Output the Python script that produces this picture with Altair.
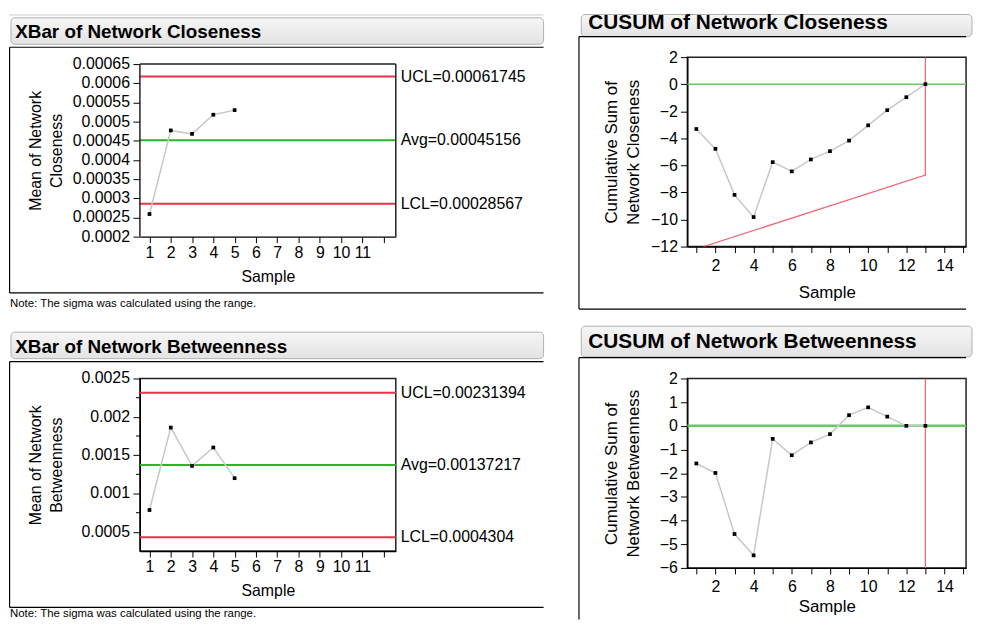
import altair as alt
import pandas as pd

FONT = "Liberation Sans"
RED = "#e8334a"
GREEN = "#2bb52b"
LIGHT_RED = "#f0687a"
LIGHT_GREEN = "#66c966"
LINE_GREY = "#c8c8c8"
FRAME = "#222222"

# ---------------- data ----------------
xbar_samples = [1, 2, 3, 4, 5]
closeness_means = [0.000259, 0.000477, 0.000468, 0.000518, 0.000530]
betweenness_means = [0.000785, 0.00186, 0.00136, 0.00160, 0.00120]

limit_names = ["UCL", "Avg", "LCL"]
closeness_limits = [0.00061745, 0.00045156, 0.00028567]
closeness_limit_labels = ["UCL=0.00061745", "Avg=0.00045156", "LCL=0.00028567"]
betweenness_limits = [0.00231394, 0.00137217, 0.0004304]
betweenness_limit_labels = ["UCL=0.00231394", "Avg=0.00137217", "LCL=0.0004304"]

cusum_samples = [1, 2, 3, 4, 5, 6, 7, 8, 9, 10, 11, 12, 13]
cusum_closeness = [-3.31, -4.78, -8.18, -9.82, -5.76, -6.44, -5.56, -4.95, -4.17, -3.04, -1.92, -0.96, 0.0]
cusum_betweenness = [-1.59, -1.99, -4.57, -5.47, -0.55, -1.24, -0.70, -0.35, 0.45, 0.78, 0.39, 0.0, 0.0]
cusum_target = [0]

vmask_closeness_x = [1.375, 13, 13]
vmask_closeness_y = [-12, -6.71, 2]
vmask_betweenness_x = [13, 13]
vmask_betweenness_y = [-6, 2]

xbar_x_range = [0.55, 12.57]
closeness_y_range = [0.0002, 0.00065]
betweenness_y_range = [0.00025, 0.0025]
cusum_x_range = [0.53, 15.13]

xbar_x_ticks = [1, 2, 3, 4, 5, 6, 7, 8, 9, 10, 11, 12]
closeness_y_ticks = [0.0002, 0.00025, 0.0003, 0.00035, 0.0004, 0.00045,
                     0.0005, 0.00055, 0.0006, 0.00065]
closeness_y_labels = ["0.0002", "0.00025", "0.0003", "0.00035", "0.0004", "0.00045",
                      "0.0005", "0.00055", "0.0006", "0.00065"]
betweenness_y_ticks = [0.0005, 0.001, 0.0015, 0.002, 0.0025]
betweenness_y_labels = ["0.0005", "0.001", "0.0015", "0.002", "0.0025"]
betweenness_y_minor = [0.00075, 0.00125, 0.00175, 0.00225]
cusum_x_ticks = [1, 2, 3, 4, 5, 6, 7, 8, 9, 10, 11, 12, 13, 14, 15]
cusum_closeness_y_ticks = [-12, -10, -8, -6, -4, -2, 0, 2]
cusum_betweenness_y_ticks = [-6, -5, -4, -3, -2, -1, 0, 1, 2]

NOTE = "Note: The sigma was calculated using the range."

one = pd.DataFrame({"k": [0]})

HEADER_FILL = alt.LinearGradient(
    gradient="linear",
    stops=[alt.GradientStop(offset=0, color="#f6f6f6"),
           alt.GradientStop(offset=1, color="#e3e3e3")],
    x1=0, x2=0, y1=0, y2=1,
)


def rect(x1, x2, y1, y2, **kw):
    return alt.Chart(one).mark_rect(**kw).encode(
        x=alt.value(x1), x2=alt.value(x2), y=alt.value(y1), y2=alt.value(y2))


def hrule(x1, x2, y, color="black", width=1.2):
    return alt.Chart(one).mark_rule(color=color, strokeWidth=width).encode(
        x=alt.value(x1), x2=alt.value(x2), y=alt.value(y))


def vrule(x, y1, y2, color="black", width=1.2):
    return alt.Chart(one).mark_rule(color=color, strokeWidth=width).encode(
        x=alt.value(x), y=alt.value(y1), y2=alt.value(y2))


def label(x, y, text, size, bold=False):
    return alt.Chart(one).mark_text(
        align="left", baseline="middle", fontSize=size,
        fontWeight="bold" if bold else "normal", font=FONT, color="black",
    ).encode(x=alt.value(x), y=alt.value(y), text=alt.value(text))


def bounds(x1, x2, y1, y2):
    return rect(x1, x2, y1, y2, fill="white", opacity=0, strokeWidth=0)


LAB = dict(labelFont=FONT, labelFontSize=16, labelColor="black", labelLimit=300,
           labelFlush=False, labelOverlap=False, grid=False)

# ---------------- XBar panels ----------------
XW, XH = 258, 174
LEFT_X = -132


def xbar_panel(means, limits, limit_labels, y_range, y_ticks, y_labels, y_title,
               header, cell_top, cell_bottom, note_y, grey_line, minor=None, ext=0):
    # ext: extra empty pixels above the plotting frame (frame then drawn by rules)
    H = XH + ext
    per_px = (y_range[1] - y_range[0]) / XH
    y_dom = [y_range[0], y_range[1] + ext * per_px]
    x_axis = alt.Axis(
        values=xbar_x_ticks, labelExpr="datum.value <= 11 ? datum.label : ''",
        format="d", title="Sample", titleY=40, titleBaseline="middle",
        titleFontSize=16, tickSize=6, labelBaseline="middle", labelPadding=9.7,
        **LAB)
    y_axis = alt.Axis(
        values=y_ticks, labels=False, title=y_title, titleX=-105,
        titleY=ext + XH / 2, titleAngle=270, titleAlign="center",
        titleBaseline="middle", titleLineHeight=21, titleFontSize=16,
        tickSize=7, domain=(ext == 0), grid=False)
    xs = alt.Scale(domain=xbar_x_range, nice=False, zero=False)
    ys = alt.Scale(domain=y_dom, nice=False, zero=False)

    def X(f):
        return alt.X(f, type="quantitative", scale=xs, axis=x_axis)

    def Y(f):
        return alt.Y(f, type="quantitative", scale=ys, axis=y_axis)

    d = ext
    df = pd.DataFrame({"sample": xbar_samples, "mean": means})
    lim = pd.DataFrame({"name": limit_names, "value": limits, "label": limit_labels})
    ticks = pd.DataFrame({"v": y_ticks, "t": y_labels})

    layers = [bounds(LEFT_X, 407, cell_top + d, cell_bottom + d)]
    if grey_line:
        layers.append(hrule(LEFT_X, 407, cell_top + d + 0.5, color="#cccccc", width=1))
    layers += [
        rect(-130, 407, -46.7 + d, -20 + d, fill=HEADER_FILL, stroke="#b0b0b0",
             strokeWidth=1, cornerRadius=4),
        label(-125.7, -32 + d, header, 19, bold=True),
        vrule(LEFT_X + 0.6, -17 + d, 230.7 + d),
        hrule(LEFT_X + 0.6, 407, -17 + d),
        hrule(LEFT_X + 0.6, 407, 230.7 + d),
        label(-131, note_y + d, NOTE, 11.5),
        alt.Chart(lim).mark_rule(strokeWidth=2).encode(
            y=Y("value"),
            color=alt.Color("name:N", scale=alt.Scale(domain=limit_names,
                            range=[RED, GREEN, RED]), legend=None)),
        alt.Chart(lim).mark_text(align="left", baseline="middle", fontSize=16,
                                 font=FONT, color="black").encode(
            x=alt.value(XW + 5), y=Y("value"), text="label:N"),
        # y tick labels
        alt.Chart(ticks).mark_text(align="right", baseline="middle", fontSize=16,
                                   font=FONT, color="black").encode(
            x=alt.value(-10), y=Y("v"), text="t:N"),
    ]
    if ext:
        # plotting frame drawn through the scales (top edge and both sides)
        top = pd.DataFrame({"y": [y_range[1]]})
        sides = pd.DataFrame({"x": xbar_x_range, "y": [y_range[0]] * 2,
                              "y2": [y_range[1]] * 2})
        layers += [
            alt.Chart(top).mark_rule(color=FRAME, strokeWidth=1.5).encode(y=Y("y")),
            alt.Chart(sides).mark_rule(color=FRAME, strokeWidth=1.5).encode(
                x=X("x"), y=Y("y"), y2="y2"),
        ]
    if minor is not None:
        mdf = pd.DataFrame({"value": minor})
        layers.append(alt.Chart(mdf).mark_rule(color="black", strokeWidth=1).encode(
            y=Y("value"), x=alt.value(-4), x2=alt.value(0)))
    layers += [
        alt.Chart(df).mark_line(color=LINE_GREY, strokeWidth=1.5).encode(
            x=X("sample"), y=Y("mean")),
        alt.Chart(df).mark_square(size=14, color="black", opacity=1).encode(
            x=X("sample"), y=Y("mean")),
    ]
    out = alt.layer(*layers).properties(width=XW, height=H)
    if ext:
        out = out.properties(view=alt.ViewBackground(strokeWidth=0))
    return out


# ---------------- CUSUM panels ----------------
CW, CH = 281, 191
RIGHT = 281


def cusum_panel(values, y_dom, y_ticks, y_title, header, cell_top, cell_bottom,
                header_top, header_bottom, title_y, frame_top, frame_bottom,
                sample_y, green_width, vx, vy):
    x_axis = alt.Axis(
        values=cusum_x_ticks, labelExpr="datum.value % 2 == 0 ? datum.label : ''",
        format="d", title="Sample", titleY=sample_y, titleBaseline="middle",
        titleFontSize=17, tickSize=6, labelBaseline="middle", labelPadding=13,
        **LAB)
    y_axis = alt.Axis(
        values=y_ticks, format="d", title=y_title, titleX=-76, titleY=CH / 2,
        titleAngle=270, titleAlign="center", titleBaseline="middle",
        titleLineHeight=22, titleFontSize=17, tickSize=7, labelPadding=3, **LAB)
    xs = alt.Scale(domain=cusum_x_range, nice=False, zero=False)
    ys = alt.Scale(domain=y_dom, nice=False, zero=False)

    def X(f):
        return alt.X(f, type="quantitative", scale=xs, axis=x_axis)

    def Y(f):
        return alt.Y(f, type="quantitative", scale=ys, axis=y_axis)

    df = pd.DataFrame({"sample": cusum_samples, "cusum": values})
    tgt = pd.DataFrame({"value": cusum_target})
    vm = pd.DataFrame({"x": vx, "y": vy, "i": list(range(len(vx)))})

    layers = [
        bounds(-110, RIGHT, cell_top, cell_bottom),
        rect(-107, RIGHT + 6, header_top, header_bottom, fill=HEADER_FILL,
             stroke="#b0b0b0", strokeWidth=1, cornerRadius=4),
        label(-100, title_y, header, 21, bold=True),
        vrule(-109.3, frame_top, frame_bottom),
        hrule(-109.3, RIGHT, frame_top),
    ]
    if frame_bottom < cell_bottom:
        layers.append(hrule(-109.3, RIGHT, frame_bottom))
    layers += [
        alt.Chart(tgt).mark_rule(color=LIGHT_GREEN, strokeWidth=green_width).encode(
            y=Y("value")),
        alt.Chart(vm).mark_line(color=LIGHT_RED, strokeWidth=1.3, clip=True).encode(
            x=X("x"), y=Y("y"), order="i:Q"),
        alt.Chart(df).mark_line(color=LINE_GREY, strokeWidth=1.5).encode(
            x=X("sample"), y=Y("cusum")),
        alt.Chart(df).mark_square(size=14, color="black", opacity=1).encode(
            x=X("sample"), y=Y("cusum")),
    ]
    return alt.layer(*layers).properties(width=CW, height=CH)


panel_a = xbar_panel(closeness_means, closeness_limits, closeness_limit_labels,
                     closeness_y_range, closeness_y_ticks, closeness_y_labels,
                     ["Mean of Network", "Closeness"], "XBar of Network Closeness",
                     -50, 254, 242.3, True, ext=7)
panel_b = xbar_panel(betweenness_means, betweenness_limits, betweenness_limit_labels,
                     betweenness_y_range, betweenness_y_ticks, betweenness_y_labels,
                     ["Mean of Network", "Betweenness"], "XBar of Network Betweenness",
                     -61, 243, 237, False, minor=betweenness_y_minor)
panel_c = cusum_panel(cusum_closeness, [-12, 2], cusum_closeness_y_ticks,
                      ["Cumulative Sum of", "Network Closeness"],
                      "CUSUM of Network Closeness",
                      -43, 261, -43, -20.7, -34.5, -20.7, 254, 46.7, 1.5,
                      vmask_closeness_x, vmask_closeness_y)
panel_d = cusum_panel(cusum_betweenness, [-6, 2], cusum_betweenness_y_ticks,
                      ["Cumulative Sum of", "Network Betweenness"],
                      "CUSUM of Network Betweenness",
                      -61, 243, -52.7, -21.7, -36.7, -21, 243, 39.3, 2.5,
                      vmask_betweenness_x, vmask_betweenness_y)

chart = alt.concat(
    panel_a, panel_c, panel_b, panel_d,
    columns=2, align="none", bounds="full",
    spacing=alt.RowColnumber(row=0, column=32), padding=0,
).configure(
    font=FONT, padding=0,
).configure_view(
    stroke=FRAME, strokeWidth=1.5
).configure_axis(
    labelFont=FONT, titleFont=FONT, labelFontSize=16, labelColor="black",
    titleColor="black", titleFontWeight="normal", domainColor="black",
    tickColor="black", domainWidth=1.2, tickWidth=1,
).configure_text(font=FONT)

chart.save("out.html", embed_options={"renderer": "svg", "actions": False})
